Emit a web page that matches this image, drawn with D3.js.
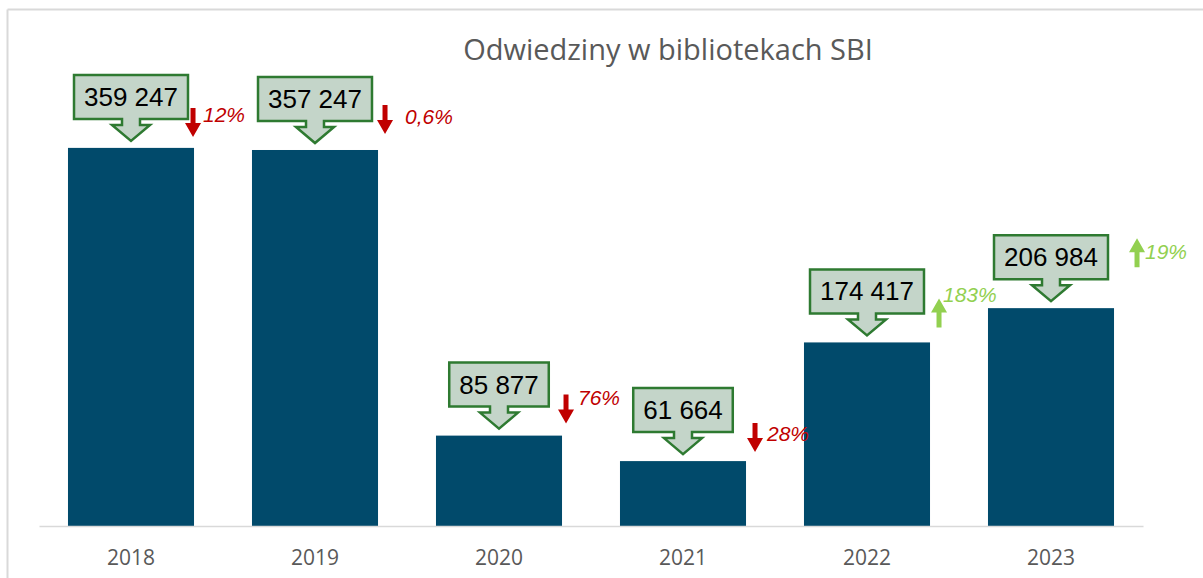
<!DOCTYPE html>
<meta charset="utf-8">
<html>
<head>
<style>
    body { margin: 0; background: #fff; }
    .axis-label { font-family: "Open Sans", sans-serif; font-size: 21px; fill: #595959; }
    .title { font-family: "Open Sans", sans-serif; font-size: 29px; fill: #595959; }
    .callout rect, .callout path { fill: #c4d5c9; stroke: #2e7a31; stroke-width: 2.5px; }
    .callout text { font-family: "Liberation Sans", Arial, sans-serif; font-size: 26px; fill: #000; }
    .change text { font-family: "Liberation Sans", Arial, sans-serif; font-size: 21px; font-style: italic; }
</style>
</head>
<body>
<svg width="1203" height="578"></svg>
<script src="https://d3js.org/d3.v7.min.js"></script>
<script>

    var years = ["2018", "2019", "2020", "2021", "2022", "2023"];
    var visits = [359247, 357247, 85877, 61664, 174417, 206984];
    var changeText = ["12%", "0,6%", "76%", "28%", "183%", "19%"];
    var changeDir = ["down", "down", "down", "down", "up", "up"];

    // hand placed marks in the original, offsets from the bar's top right corner
    var arrowNudge = [[-1, -40], [7, -45], [4, -41], [9, -38], [9, -44], [23, -70]];
    var textNudge = [[10, 14], [20, 19], [12, 10], [12, 18], [4, 4], [8, 21]];

    var svg = d3.select("svg");

    // chart frame (only top and left edge are visible)
    svg.append("line").attr("x1", 7.5).attr("x2", 1203).attr("y1", 9.5).attr("y2", 9.5)
        .attr("stroke", "#d9d9d9").attr("stroke-width", 2);
    svg.append("line").attr("x1", 7.5).attr("x2", 7.5).attr("y1", 9.5).attr("y2", 578)
        .attr("stroke", "#d9d9d9").attr("stroke-width", 2);

    svg.append("text").attr("class", "title")
        .attr("x", 668).attr("y", 60).attr("text-anchor", "middle")
        .text("Odwiedziny w bibliotekach SBI");

    var x = d3.scaleBand().domain(years).range([39, 1143])
        .paddingInner(0.315).paddingOuter(0.1575);
    var y = d3.scaleLinear().domain([0, 400000]).range([526, 105]);

    var data = years.map(function(yr, i) {
        return { year: yr, value: visits[i], change: changeText[i], dir: changeDir[i], i: i };
    });

    svg.append("g").selectAll("rect")
        .data(data)
        .enter().append("rect")
        .attr("x", d => x(d.year))
        .attr("y", d => y(d.value))
        .attr("width", x.bandwidth())
        .attr("height", d => y(0) - y(d.value))
        .attr("fill", "#014a6b");

    // category axis
    var xAxis = svg.append("g").attr("transform", "translate(0,526)")
        .call(d3.axisBottom(x).tickSize(0).tickPadding(0));
    xAxis.select(".domain").attr("stroke", "#d9d9d9").attr("stroke-width", 1.5);
    xAxis.selectAll("text").attr("class", "axis-label").attr("font-family", null).attr("font-size", null)
        .attr("dy", null).attr("y", 39);

    // value callouts
    var call = svg.append("g").selectAll("g")
        .data(data)
        .enter().append("g")
        .attr("class", "callout");

    call.each(function(d) {
        var g = d3.select(this);
        var cx = x(d.year) + x.bandwidth() / 2;
        var tip = y(d.value) - 7;
        var boxBottom = tip - 22, boxTop = boxBottom - 44;
        var t = g.append("text").attr("x", cx).attr("y", (boxTop + boxBottom) / 2 + 9)
            .attr("text-anchor", "middle")
            .text(d3.format(",")(d.value).replace(/,/g, " "));
        var w = t.node().getComputedTextLength() + 20;
        var p = d3.path();
        p.moveTo(cx - w / 2, boxTop);
        p.lineTo(cx + w / 2, boxTop);
        p.lineTo(cx + w / 2, boxBottom);
        p.lineTo(cx + 9, boxBottom);
        p.lineTo(cx + 9, boxBottom + 6);
        p.lineTo(cx + 19, boxBottom + 6);
        p.lineTo(cx, tip);
        p.lineTo(cx - 19, boxBottom + 6);
        p.lineTo(cx - 9, boxBottom + 6);
        p.lineTo(cx - 9, boxBottom);
        p.lineTo(cx - w / 2, boxBottom);
        p.closePath();
        g.insert("path", "text").attr("d", p.toString());
    });

    // change markers
    var change = svg.append("g").selectAll("g")
        .data(data)
        .enter().append("g")
        .attr("class", "change");

    change.each(function(d) {
        var g = d3.select(this);
        var col = d.dir == "up" ? "#92d050" : "#c00000";
        var ax = x(d.year) + x.bandwidth() + arrowNudge[d.i][0];
        var ay = y(d.value) + arrowNudge[d.i][1];
        var h = 29, hw = 8, sw = 2.5, hh = 14;
        var pts;
        if (d.dir == "down") {
            pts = [[ax - sw, ay], [ax + sw, ay], [ax + sw, ay + h - hh], [ax + hw, ay + h - hh],
                   [ax, ay + h], [ax - hw, ay + h - hh], [ax - sw, ay + h - hh]];
        } else {
            pts = [[ax, ay], [ax + hw, ay + hh], [ax + sw, ay + hh], [ax + sw, ay + h],
                   [ax - sw, ay + h], [ax - sw, ay + hh], [ax - hw, ay + hh]];
        }
        g.append("polygon").attr("points", pts.map(q => q.join(",")).join(" ")).attr("fill", col);
        g.append("text")
            .attr("x", ax + textNudge[d.i][0])
            .attr("y", ay + textNudge[d.i][1])
            .attr("fill", col)
            .text(d.change);
    });

</script>
</body>
</html>
